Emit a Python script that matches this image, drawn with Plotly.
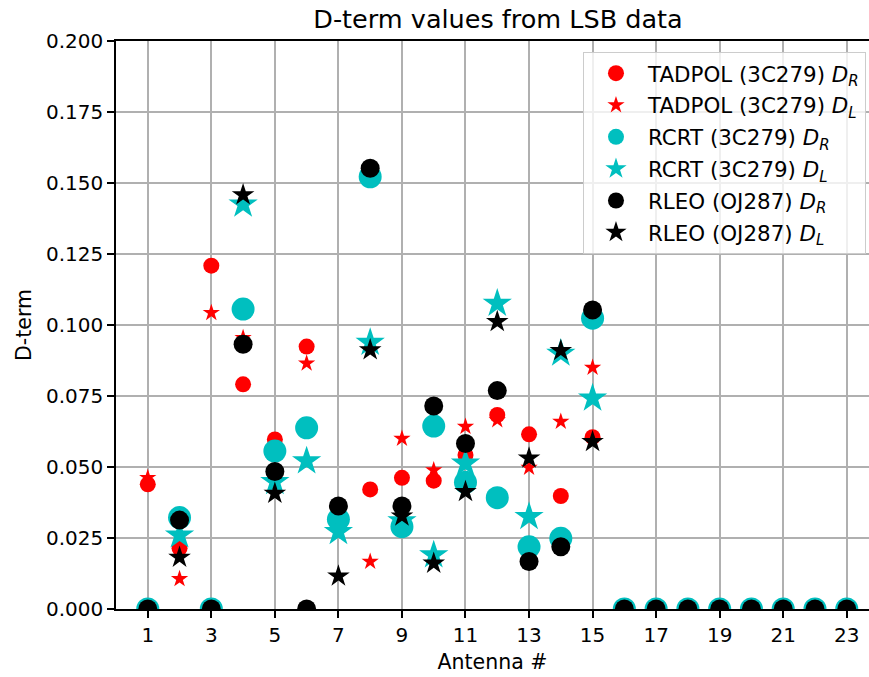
import plotly.graph_objects as go

antennas = list(range(1, 24))
N8 = [None] * 8
Z8 = [0.0] * 8

tadpol_dr = [0.0439, 0.0214, 0.1209, 0.0791, 0.0597, 0.0924, None, 0.0421, 0.0462, 0.0452,
             0.0542, 0.0683, 0.0615, 0.0398, 0.0605] + N8
tadpol_dl = [0.0462, 0.0106, 0.1043, 0.0955, 0.0460, 0.0865, None, 0.0167, 0.0600, 0.0489,
             0.0642, 0.0665, 0.0498, 0.0660, 0.0850] + N8
rcrt_dr = [0.0, 0.0322, 0.0, 0.1056, 0.0556, 0.0638, 0.0316, 0.1522, 0.0290, 0.0644,
           0.0446, 0.0392, 0.0219, 0.0249, 0.1024] + Z8
rcrt_dl = [None, 0.0260, None, 0.1425, 0.0448, 0.0521, 0.0272, 0.0938, 0.0310, 0.0190,
           0.0513, 0.1076, 0.0325, 0.0900, 0.0742] + N8
rleo_dr = [0.0, 0.0313, 0.0, 0.0932, 0.0484, 0.0, 0.0363, 0.1552, 0.0363, 0.0715,
           0.0583, 0.0769, 0.0167, 0.0219, 0.1053] + Z8
rleo_dl = [None, 0.0182, None, 0.1458, 0.0407, None, 0.0116, 0.0912, 0.0327, 0.0161,
           0.0413, 0.1012, 0.0531, 0.0910, 0.0589] + N8

x_ticks = list(range(1, 24, 2))
y_ticks = [0.0, 0.025, 0.05, 0.075, 0.1, 0.125, 0.15, 0.175, 0.2]

series = [
    ("TADPOL (3C279) <i>D</i><sub><i>R</i></sub>", tadpol_dr, "circle", 16, "#ff0000"),
    ("TADPOL (3C279) <i>D</i><sub><i>L</i></sub>", tadpol_dl, "star", 13, "#ff0000"),
    ("RCRT (3C279) <i>D</i><sub><i>R</i></sub>", rcrt_dr, "circle", 23, "#00bfbf"),
    ("RCRT (3C279) <i>D</i><sub><i>L</i></sub>", rcrt_dl, "star", 22, "#00bfbf"),
    ("RLEO (OJ287) <i>D</i><sub><i>R</i></sub>", rleo_dr, "circle", 19, "#000000"),
    ("RLEO (OJ287) <i>D</i><sub><i>L</i></sub>", rleo_dl, "star", 17, "#000000"),
]

FONT = "DejaVu Sans"
fig = go.Figure()
for i, (name, vals, sym, size, col) in enumerate(series):
    fig.add_trace(go.Scatter(
        x=antennas, y=vals, mode="markers", name=name,
        legendgroup=f"g{i}",
        marker=dict(symbol=sym, size=size, color=col, line=dict(width=0)),
        cliponaxis=True,
    ))

fig.update_layout(
    width=869, height=677,
    margin=dict(l=116, r=0, t=41, b=68),
    paper_bgcolor="white", plot_bgcolor="white",
    font=dict(family=FONT, size=20, color="black"),
    title=dict(text="D-term values from LSB data", x=498 / 869, xanchor="center",
               y=1 - 19 / 677, yanchor="middle", font=dict(size=25.5)),
    showlegend=True,
    legend=dict(x=0.996, xanchor="right", y=0.981, yanchor="top",
                bgcolor="rgba(255,255,255,0.8)", bordercolor="#cccccc", borderwidth=1,
                font=dict(size=21.4), traceorder="grouped", tracegroupgap=1,
                itemsizing="trace", itemwidth=54),
    xaxis=dict(range=[0, 23.7], tickvals=x_ticks, ticktext=[str(t) for t in x_ticks],
               showgrid=True, gridcolor="#b0b0b0", gridwidth=1.5,
               showline=True, linecolor="black", linewidth=1.5, mirror=True,
               ticks="outside", ticklen=7, tickwidth=1.5, tickcolor="black",
               zeroline=False,
               title=dict(text="Antenna #", standoff=9, font=dict(size=20.5))),
    yaxis=dict(range=[0, 0.2], tickvals=y_ticks, ticktext=[f"{t:.3f}" for t in y_ticks],
               showgrid=True, gridcolor="#b0b0b0", gridwidth=1.5,
               showline=True, linecolor="black", linewidth=1.5, mirror=False,
               ticks="outside", ticklen=7, tickwidth=1.5, tickcolor="black",
               zeroline=False,
               title=dict(text="D-term", standoff=9, font=dict(size=20.5))),
)

fig.write_html("out.html")
